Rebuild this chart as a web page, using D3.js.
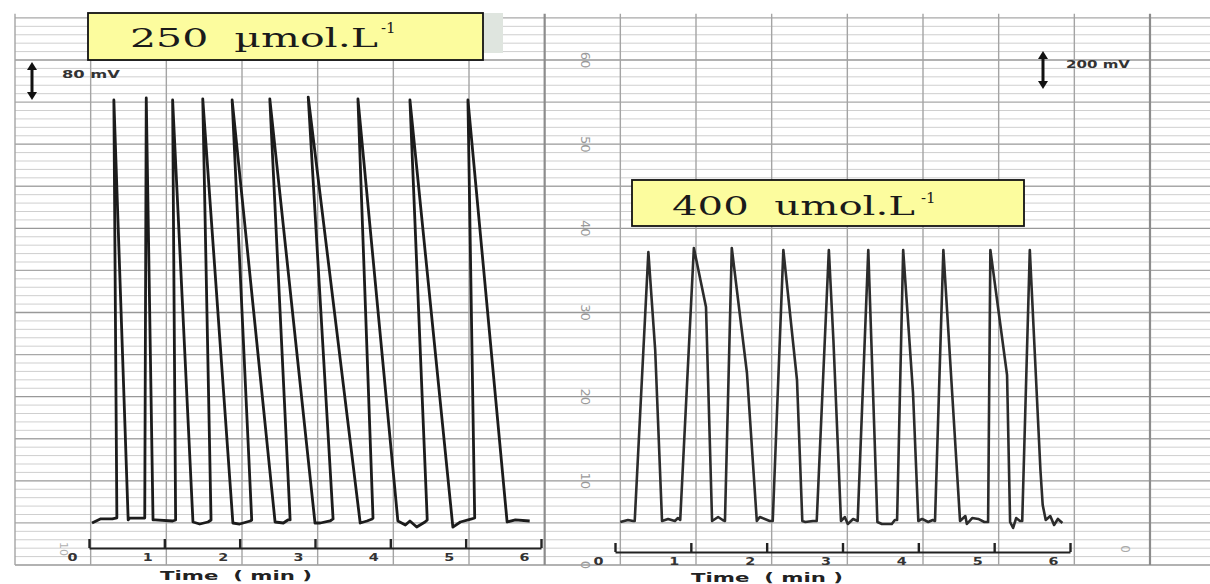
<!DOCTYPE html>
<html>
<head>
<meta charset="utf-8">
<script src="https://cdn.jsdelivr.net/npm/d3@7"></script>
<style>
  body { margin: 0; background: #fff; }
  svg { display: block; }
</style>
</head>
<body>
<div id="output"></div>
<script>
// Recorder traces: [time (min), chart division]
var trace250 = [
  [0.04,4.99],[0.15,5.47],[0.31,5.47],[0.37,5.6],[0.33,55.25],[0.52,5.35],
  [0.54,5.58],[0.72,5.58],[0.74,5.58],[0.76,55.49],[0.85,5.35],[0.88,5.35],
  [1.11,5.23],[1.15,5.35],[1.11,55.25],[1.38,5.11],[1.47,4.87],[1.58,5.11],
  [1.62,5.35],[1.51,55.37],[1.91,4.99],[2.0,4.87],[2.14,5.23],[2.16,5.35],
  [1.9,55.25],[2.47,5.11],[2.58,4.99],[2.64,5.35],[2.67,5.35],[2.4,55.37],
  [3.0,4.99],[3.07,4.99],[3.2,5.23],[3.24,5.47],[2.91,55.6],[3.6,4.99],
  [3.69,5.23],[3.76,5.47],[3.77,5.58],[3.57,55.37],[4.1,5.23],[4.2,4.75],
  [4.26,5.23],[4.35,4.51],[4.46,5.11],[4.49,5.35],[4.26,55.25],[4.83,4.51],
  [4.93,5.11],[5.08,5.47],[5.12,5.58],[5.03,55.25],[5.55,5.11],[5.66,5.35],
  [5.85,5.23]
];
var trace400 = [
  [0.07,5.11],[0.17,5.35],[0.24,5.23],[0.26,5.23],[0.44,37.19],[0.53,25.54],
  [0.62,5.23],[0.70,5.47],[0.79,5.23],[0.83,5.58],[0.86,5.35],[1.04,37.66],
  [1.20,30.65],[1.28,5.23],[1.36,5.70],[1.42,5.35],[1.45,5.23],[1.54,37.66],
  [1.74,22.81],[1.87,5.23],[1.91,5.70],[2.04,5.23],[2.08,5.23],[2.22,37.43],
  [2.40,21.98],[2.47,5.23],[2.51,5.11],[2.61,5.23],[2.66,5.23],[2.82,37.43],
  [2.88,26.73],[2.98,5.23],[3.03,5.70],[3.07,4.87],[3.14,5.47],[3.20,5.23],
  [3.34,37.43],[3.46,5.11],[3.52,4.87],[3.65,4.87],[3.69,5.35],[3.72,5.35],
  [3.80,37.43],[3.93,20.44],[4.00,5.23],[4.05,5.47],[4.13,5.11],[4.19,5.35],
  [4.22,5.23],[4.33,37.43],[4.55,5.23],[4.62,5.82],[4.64,4.87],[4.71,5.58],
  [4.79,5.47],[4.87,5.11],[4.92,5.11],[4.95,37.43],[5.17,22.57],[5.21,5.11],
  [5.25,4.40],[5.29,5.58],[5.34,5.23],[5.37,5.23],[5.47,37.43],[5.61,11.29],
  [5.64,7.13],[5.68,5.35],[5.74,5.82],[5.79,4.75],[5.84,5.47],[5.90,4.99]
];
var minutes = [0, 1, 2, 3, 4, 5, 6];
var chartTicks = [0, 10, 20, 30, 40, 50, 60];
var concLabels = ['250  \u00b5mol.L', '400  umol.L'];
var scaleLabels = ['80 mV', '200 mV'];

function renderChart(){
  var width = 1210;
  var height = 584;

  var svg = d3.select('#output')
  .append('svg')
  .attr('width', width)
  .attr('height', height)
  .style('background', '#fff');

  // chart paper: divisions up the page, columns across it
  var y = d3.scaleLinear().domain([0, 60]).range([565, 60]);
  var col = d3.scaleLinear().domain([0, 15]).range([15, 1150]);

  // time scales for the two runs
  var tL = d3.scaleLinear().domain([0, 6]).range([89, 541]);
  var tR = d3.scaleLinear().domain([0, 6]).range([615, 1070]);

  var paper = svg.append('g').attr('id', 'paper');

  paper.selectAll('line.h')
  .data(d3.range(0, 66))
  .enter().append('line')
  .attr('class', 'h')
  .attr('x1', 15).attr('x2', width)
  .attr('y1', (d) => y(d)).attr('y2', (d) => y(d))
  .attr('stroke', (d) => d % 10 === 0 ? '#999' : (d % 5 === 0 ? '#a8a8a8' : '#cacaca'))
  .attr('stroke-width', (d) => d % 5 === 0 ? 1.3 : 0.9);

  paper.selectAll('line.v')
  .data(d3.range(0, 16))
  .enter().append('line')
  .attr('class', 'v')
  .attr('x1', (d) => col(d)).attr('x2', (d) => col(d))
  .attr('y1', y(65.5)).attr('y2', y(0))
  .attr('stroke', (d) => (d === 7 || d === 15) ? '#8c8c8c' : '#a4a4a4')
  .attr('stroke-width', (d) => (d === 7 || d === 15) ? 2.2 : 1.4);

  // printed paper numbers (sideways)
  paper.selectAll('text.pnum')
  .data(chartTicks)
  .enter().append('text')
  .attr('class', 'pnum')
  .attr('transform', (d) => `translate(586, ${y(d)}) rotate(90)`)
  .attr('text-anchor', 'middle')
  .attr('dy', '0.35em')
  .attr('font-family', 'DejaVu Sans')
  .attr('font-size', 13)
  .attr('fill', '#9a9a9a')
  .text((d) => d);

  paper.append('text')
  .attr('transform', 'translate(1125, 549) rotate(90)')
  .attr('text-anchor', 'middle').attr('dy', '0.35em')
  .attr('font-family', 'DejaVu Sans').attr('font-size', 12)
  .attr('fill', '#aaa').text('0');

  paper.append('text')
  .attr('transform', 'translate(64, 549) rotate(90)')
  .attr('text-anchor', 'middle').attr('dy', '0.35em')
  .attr('font-family', 'DejaVu Sans').attr('font-size', 11)
  .attr('fill', '#b0b0b0').text('10');

  // time axes
  function timeAxis(scale, yPos){
    var axis = d3.axisBottom(scale)
    .tickValues(minutes)
    .tickFormat(d3.format('d'))
    .tickSizeInner(-9)
    .tickSizeOuter(0)
    .tickPadding(6);
    var g = svg.append('g')
    .attr('transform', `translate(0, ${yPos})`)
    .call(axis);
    g.select('.domain').attr('stroke', '#222').attr('stroke-width', 2.2);
    g.selectAll('.tick line').attr('stroke', '#222').attr('stroke-width', 2.4);
    g.selectAll('.tick text')
    .attr('x', -17)
    .attr('fill', '#333')
    .attr('font-family', 'DejaVu Sans')
    .attr('font-weight', 'bold')
    .attr('font-size', 10)
    .attr('textLength', 10)
    .attr('lengthAdjust', 'spacingAndGlyphs');
    return g;
  }
  timeAxis(tL, 548);
  timeAxis(tR, 552);

  svg.append('text')
  .attr('x', 160).attr('y', 580)
  .attr('font-family', 'DejaVu Sans').attr('font-weight', 'bold').attr('font-size', 13)
  .attr('fill', '#222')
  .attr('textLength', 152).attr('lengthAdjust', 'spacingAndGlyphs')
  .style('white-space', 'pre')
  .text('Time  ( min )');

  svg.append('text')
  .attr('x', 691).attr('y', 582)
  .attr('font-family', 'DejaVu Sans').attr('font-weight', 'bold').attr('font-size', 12)
  .attr('fill', '#222')
  .attr('textLength', 152).attr('lengthAdjust', 'spacingAndGlyphs')
  .style('white-space', 'pre')
  .text('Time  ( min )');

  // traces
  var lineL = d3.line().x((d) => tL(d[0])).y((d) => y(d[1]));
  var lineR = d3.line().x((d) => tR(d[0])).y((d) => y(d[1]));

  svg.append('path')
  .datum(trace250)
  .attr('d', lineL)
  .attr('fill', 'none')
  .attr('stroke', '#1c1c1c')
  .attr('stroke-width', 2.8)
  .attr('stroke-linejoin', 'round');

  svg.append('path')
  .datum(trace400)
  .attr('d', lineR)
  .attr('fill', 'none')
  .attr('stroke', '#2c2c2c')
  .attr('stroke-width', 2.6)
  .attr('stroke-linejoin', 'round');

  // concentration boxes
  var boxes = [
    {x: 88, y: 13, w: 395, h: 47, tx: 130, ty: 47, tl: 248, sx: 381, sy: 33},
    {x: 632, y: 180, w: 392, h: 46, tx: 672, ty: 215, tl: 243, sx: 921, sy: 203}
  ];
  svg.append('rect')
  .attr('x', 484).attr('y', 13).attr('width', 19).attr('height', 40)
  .attr('fill', '#dfe5df');

  boxes.forEach(function(b, i){
    svg.append('rect')
    .attr('x', b.x).attr('y', b.y)
    .attr('width', b.w).attr('height', b.h)
    .attr('fill', '#fcfc9e')
    .attr('stroke', '#111')
    .attr('stroke-width', 1.8);
    svg.append('text')
    .attr('x', b.tx).attr('y', b.ty)
    .attr('font-family', 'DejaVu Serif')
    .attr('font-size', 26)
    .attr('fill', '#1a1a1a')
    .attr('textLength', b.tl).attr('lengthAdjust', 'spacingAndGlyphs')
    .style('white-space', 'pre')
    .text(concLabels[i]);
    svg.append('text')
    .attr('x', b.sx).attr('y', b.sy)
    .attr('font-family', 'DejaVu Serif')
    .attr('font-size', 15)
    .attr('fill', '#1a1a1a')
    .text('-1');
  });

  // mV scale markers
  var markers = [
    {x: 32, y1: 62, y2: 100, lx: 62, ly: 78, ll: 58},
    {x: 1043, y1: 51, y2: 89, lx: 1066, ly: 68, ll: 64}
  ];
  markers.forEach(function(m, i){
    svg.append('line')
    .attr('x1', m.x).attr('x2', m.x)
    .attr('y1', m.y1 + 6).attr('y2', m.y2 - 6)
    .attr('stroke', '#111').attr('stroke-width', 3);
    svg.append('path')
    .attr('d', `M${m.x - 5},${m.y1 + 8} L${m.x},${m.y1} L${m.x + 5},${m.y1 + 8} Z`)
    .attr('fill', '#111');
    svg.append('path')
    .attr('d', `M${m.x - 5},${m.y2 - 8} L${m.x},${m.y2} L${m.x + 5},${m.y2 - 8} Z`)
    .attr('fill', '#111');
    svg.append('text')
    .attr('x', m.lx).attr('y', m.ly)
    .attr('font-family', 'DejaVu Sans')
    .attr('font-weight', 'bold')
    .attr('font-size', 10)
    .attr('fill', '#333')
    .attr('textLength', m.ll).attr('lengthAdjust', 'spacingAndGlyphs')
    .text(scaleLabels[i]);
  });
}

document.addEventListener('DOMContentLoaded', renderChart);
</script>
</body>
</html>
